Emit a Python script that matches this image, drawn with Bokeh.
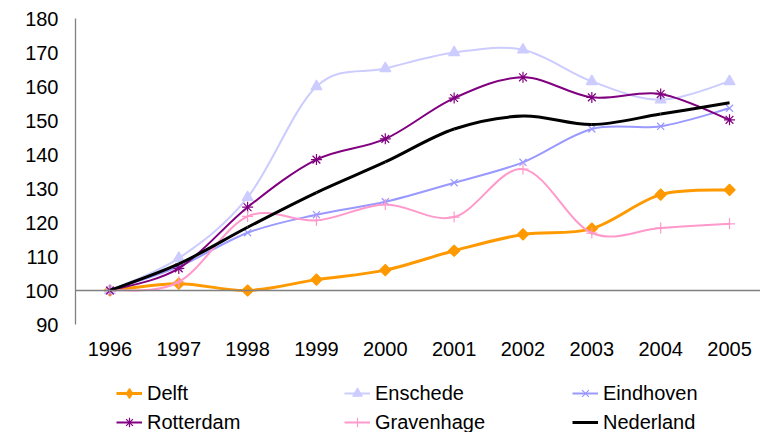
import numpy as np
from bokeh.plotting import figure
from bokeh.layouts import column
from bokeh.models import Range1d, FixedTicker, Span, Legend, LegendItem, ColumnDataSource
from bokeh.embed import file_html
from bokeh.resources import INLINE

years = ["1996", "1997", "1998", "1999", "2000", "2001", "2002", "2003", "2004", "2005"]
delft = [100, 102, 100, 103.2, 106, 111.7, 116.5, 118.2, 128.2, 129.6]
enschede = [100, 109.5, 127.4, 160, 165.3, 170, 170.8, 161.5, 156.1, 161.5]
eindhoven = [100, 107, 117, 122.3, 126.1, 131.7, 137.7, 147.5, 148.3, 153.6]
rotterdam = [100, 106.5, 124.5, 138.5, 144.6, 156.6, 162.7, 156.8, 157.8, 150.2]
gravenhage = [100, 102.5, 121.8, 120.6, 125.3, 121.6, 135.7, 116.9, 118.4, 119.6]
nederland = [100, 107.8, 118.6, 128.8, 137.8, 147.5, 151.3, 148.8, 151.9, 155.2]
y_ticks = [90, 100, 110, 120, 130, 140, 150, 160, 170, 180]

FONT = "Liberation Sans"
FS = "20px"

p = figure(width=760, height=368, output_backend="svg", toolbar_location=None,
           x_range=Range1d(-0.5, 9.45), y_range=Range1d(90, 180),
           min_border_left=75, min_border_right=0, min_border_top=18, min_border_bottom=44)
p.outline_line_color = None
p.xgrid.visible = False
p.ygrid.visible = False

xi = list(range(len(years)))
p.xaxis.ticker = FixedTicker(ticks=xi)
p.xaxis.major_label_overrides = {i: y for i, y in zip(xi, years)}
p.xaxis.axis_line_color = None
p.xaxis.major_tick_line_color = None
p.xaxis.minor_tick_line_color = None
p.xaxis.major_tick_out = 0
p.xaxis.major_label_standoff = 17
p.xaxis.major_label_text_font = FONT
p.xaxis.major_label_text_font_size = FS
p.xaxis.major_label_text_color = "black"

p.yaxis.ticker = FixedTicker(ticks=y_ticks)
p.yaxis.axis_line_color = "#808080"
p.yaxis.axis_line_width = 1.3
p.yaxis.major_tick_line_color = None
p.yaxis.minor_tick_line_color = None
p.yaxis.major_tick_out = 0
p.yaxis.major_label_standoff = 17
p.yaxis.major_label_text_font = FONT
p.yaxis.major_label_text_font_size = FS
p.yaxis.major_label_text_color = "black"

p.add_layout(Span(location=100, dimension="width", line_color="#808080", line_width=1.5))


def bez_source(vals, k=1.0 / 6.0):
    y = np.asarray(vals, dtype=float)
    x = np.arange(len(y), dtype=float)
    xp = np.concatenate([[x[0]], x, [x[-1]]])
    yp = np.concatenate([[y[0]], y, [y[-1]]])
    n = len(y)
    i = np.arange(n - 1) + 1
    cx0 = xp[i] + (xp[i + 1] - xp[i - 1]) * k
    cy0 = yp[i] + (yp[i + 1] - yp[i - 1]) * k
    cx1 = xp[i + 1] - (xp[i + 2] - xp[i]) * k
    cy1 = yp[i + 1] - (yp[i + 2] - yp[i]) * k
    return ColumnDataSource(dict(x0=xp[i], y0=yp[i], x1=xp[i + 1], y1=yp[i + 1],
                                 cx0=cx0, cy0=cy0, cx1=cx1, cy1=cy1))


# name, values, colour, line width, marker, marker size, marker angle, legend marker, legend size
series = [
    ("Delft", delft, "#FF9900", 3, "square", 8, 0.785398, "diamond", 12),
    ("Enschede", enschede, "#CCCCFF", 2, "triangle", 11, 0.0, "triangle", 10),
    ("Eindhoven", eindhoven, "#9999FF", 2, "x", 10, 0.0, "x", 10),
    ("Rotterdam", rotterdam, "#800080", 2, "asterisk", 11, 0.0, "asterisk", 10),
    ("Gravenhage", gravenhage, "#FF99CC", 2, "cross", 11, 0.0, "cross", 10),
    ("Nederland", nederland, "#000000", 3, None, 0, 0.0, None, 0),
]

# legend strip (separate figure so that the legend is not clipped by the plot frame)
p2 = figure(width=760, height=64, output_backend="svg", toolbar_location=None,
            x_range=Range1d(0, 1), y_range=Range1d(0, 1),
            x_axis_location=None, y_axis_location=None,
            min_border_left=0, min_border_right=0, min_border_top=0, min_border_bottom=0)
p2.outline_line_color = None
p2.grid.visible = False

nan = [float("nan")]
items = []
for name, vals, color, lw, marker, size, ang, lmarker, lsize in series:
    src = bez_source(vals)
    p.bezier(x0="x0", y0="y0", x1="x1", y1="y1", cx0="cx0", cy0="cy0",
             cx1="cx1", cy1="cy1", source=src, line_color=color, line_width=lw)
    if marker is not None:
        p.scatter(xi, vals, marker=marker, size=size, angle=ang, line_color=color,
                  fill_color=color, line_width=1.2)
    # legend glyphs (no visible data, same styles)
    rs = [p2.line(x=nan, y=nan, line_color=color, line_width=lw)]
    if lmarker is not None:
        rs.append(p2.scatter(x=nan, y=nan, marker=lmarker, size=lsize,
                             line_color=color, fill_color=color, line_width=1.2))
    items.append(LegendItem(label=name, renderers=rs))


def make_legend(its, y):
    return Legend(items=its, orientation="horizontal", location=(41, y),
                  label_text_font=FONT, label_text_font_size=FS, label_text_color="black",
                  glyph_width=26, glyph_height=24, label_height=24, label_width=197,
                  label_standoff=5, spacing=0, padding=0, margin=0,
                  border_line_color=None, background_fill_alpha=0)


p2.add_layout(make_legend(items[:3], 27))
p2.add_layout(make_legend(items[3:], -2))

layout = column(p, p2, spacing=0)
open("out.html", "w").write(file_html(layout, INLINE))
